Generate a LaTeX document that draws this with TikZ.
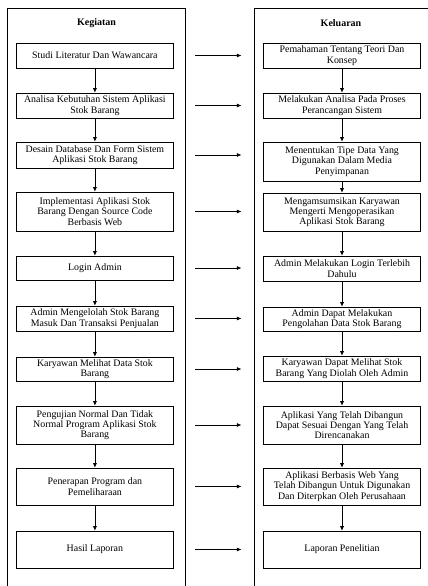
\documentclass[tikz,border=0pt]{standalone}
\usepackage{fontspec}
\setmainfont{Liberation Serif}
\usetikzlibrary{arrows.meta,calc}

\tikzset{
	box/.style={draw, line width=0.6pt, align=center, inner sep=1pt, font=\fontsize{9.9}{10.3}\selectfont},
	kegbox/.style={box, minimum width=156.6pt},
	kelbox/.style={box, minimum width=157.4pt},
	flow/.style={-{Latex[length=4.5pt,width=4pt]}, line width=0.6pt},
	frame/.style={draw, line width=0.6pt},
	judul/.style={font=\fontsize{10}{11}\selectfont\bfseries}
}

\begin{document}
\begin{tikzpicture}[x=1pt,y=-1pt]
	\useasboundingbox (0,0) rectangle (428,586);
	\clip (0,0) rectangle (428,586);
	
	% kolom
	\draw[frame] (7.5,8) rectangle (185.7,600);
	\draw[frame] (254.3,8) rectangle (440,600);
	\node[judul] (kegiatan) at (96.6,23) {Kegiatan};
	\node[judul] (keluaran) at (341,23) {Keluaran};
	
	% kegiatan
	\node[kegbox, minimum height=25pt] (keg1) at (94.9,55.5) {Studi Literatur Dan Wawancara};
	\node[kegbox, minimum height=25pt] (keg2) at (94.9,105.5) {Analisa Kebutuhan Sistem Aplikasi\\Stok Barang};
	\node[kegbox, minimum height=26pt] (keg3) at (94.9,155) {Desain Database Dan Form Sistem\\Aplikasi Stok Barang};
	\node[kegbox, minimum height=39pt] (keg4) at (94.9,211.5) {Implementasi Aplikasi Stok\\Barang Dengan Source Code\\Berbasis Web};
	\node[kegbox, minimum height=24pt] (keg5) at (94.9,268) {Login Admin};
	\node[kegbox, minimum height=25pt] (keg6) at (94.9,318.5) {Admin Mengelolah Stok Barang\\Masuk Dan Transaksi Penjualan};
	\node[kegbox, minimum height=24pt] (keg7) at (94.9,369) {Karyawan Melihat Data Stok\\Barang};
	\node[kegbox, minimum height=38pt] (keg8) at (94.9,425) {Pengujian Normal Dan Tidak\\Normal Program Aplikasi Stok\\Barang};
	\node[kegbox, minimum height=37pt] (keg9) at (94.9,486.5) {Penerapan Program dan\\Pemeliharaan};
	\node[kegbox, minimum height=37pt] (keg10) at (94.9,549.5) {Hasil Laporan};
	
	% keluaran
	\node[kelbox, minimum height=25pt] (kel1) at (342,55.5) {Pemahaman Tentang Teori Dan\\Konsep};
	\node[kelbox, minimum height=25pt] (kel2) at (342,105.5) {Melakukan Analisa Pada Proses\\Perancangan Sistem};
	\node[kelbox, minimum height=39pt] (kel3) at (342,161.5) {Menentukan Tipe Data Yang\\Digunakan Dalam Media\\Penyimpanan};
	\node[kelbox, minimum height=38pt] (kel4) at (342,212) {Mengamsumsikan Karyawan\\Mengerti Mengoperasikan\\Aplikasi Stok Barang};
	\node[kelbox, minimum height=25pt] (kel5) at (342,268.5) {Admin Melakukan Login Terlebih\\Dahulu};
	\node[kelbox, minimum height=24pt] (kel6) at (342,319) {Admin Dapat Melakukan\\Pengolahan Data Stok Barang};
	\node[kelbox, minimum height=25pt] (kel7) at (342,368.5) {Karyawan Dapat Melihat Stok\\Barang Yang Diolah Oleh Admin};
	\node[kelbox, minimum height=38pt] (kel8) at (342,425) {Aplikasi Yang Telah Dibangun\\Dapat Sesuai Dengan Yang Telah\\Direncanakan};
	\node[kelbox, minimum height=37pt] (kel9) at (342,486.5) {Aplikasi Berbasis Web Yang\\Telah Dibangun Untuk Digunakan\\Dan Diterpkan Oleh Perusahaan};
	\node[kelbox, minimum height=37pt] (kel10) at (342,549.5) {Laporan Penelitian};
	
	% panah
	\foreach \i [count=\j from 2] in {1,...,9} {
		\draw[flow] (keg\i.south) -- (keg\j.north);
		\draw[flow] (kel\i.south) -- (kel\j.north);
	}
	\foreach \i in {1,...,10}
		\draw[flow] ($(keg\i.east)+(21.8,0)$) -- ($(keg\i.east -| kel\i.west)+(-21.6,0)$);
\end{tikzpicture}
\end{document}
